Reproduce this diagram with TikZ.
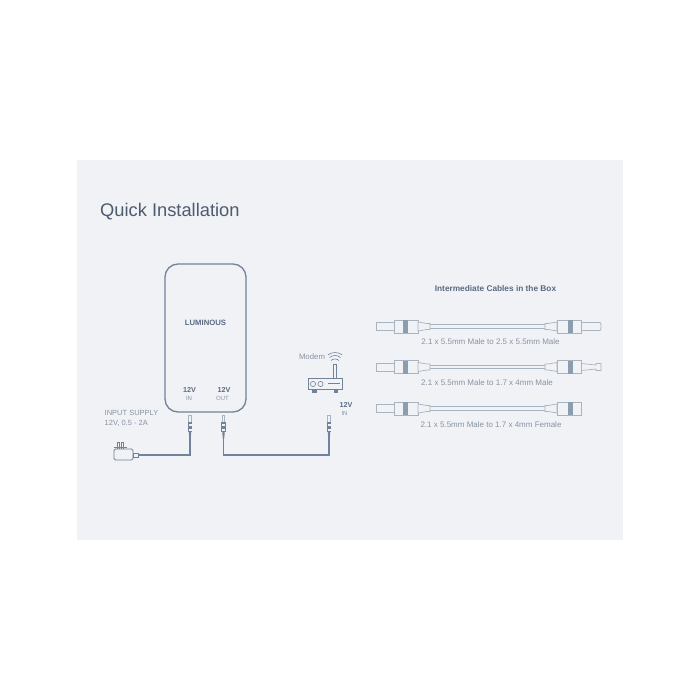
\documentclass[tikz,border=0pt]{standalone}
\usepackage{fontspec}
\setmainfont{Liberation Sans}
\definecolor{panel}{HTML}{F1F2F6}
\definecolor{ink}{HTML}{71829A}
\definecolor{dark}{HTML}{5A6B82}
\definecolor{soft}{HTML}{A9B4C2}
\definecolor{band}{HTML}{8B9DB0}
\definecolor{txt}{HTML}{8793A3}
\tikzset{
  lbl/.style={inner sep=0pt,text=txt,font=\fontsize{8}{9}\selectfont},
  boldlbl/.style={inner sep=0pt,text=dark,font=\fontsize{7.2}{8}\selectfont\bfseries},
  tiny/.style={inner sep=0pt,text=txt,font=\fontsize{6}{7}\selectfont},
  wire/.style={draw=ink,line width=1.1pt},
  thin part/.style={draw=soft,line width=.7pt,fill=panel},
  iconline/.style={draw=ink,line width=.8pt}
}
% vertical plug at (#1), top of tip; name #2 = lower end
\newcommand{\vplug}[2]{%
  \begin{scope}[shift={(#1)}]
    \draw[draw=soft,line width=.7pt,fill=panel] (-1.3,0) rectangle (1.3,7);
    \fill[ink] (-2.4,7) rectangle (2.4,17);
    \fill[panel] (-1.5,8.5) rectangle (1.5,11);
    \fill[panel] (-1.5,14) rectangle (1.5,15.5);
    \fill[ink] (-1.2,17) -- (1.2,17) -- (.8,23) -- (-.8,23) -- cycle;
    \coordinate (#2) at (0,23);
  \end{scope}}
% horizontal connector half; #1 origin at body end, #2 = direction (1 = wire to right)
\newcommand{\cablebody}[3]{%
  \begin{scope}[shift={(#1)},xscale=#2]
    \draw[thin part] (0,-6.5) rectangle (24,6.5);
    \fill[band] (8.5,-6.5) rectangle (13.5,6.5);
    \draw[thin part] (24,-4.5) -- (33,-3) -- (36,-3) -- (36,3) -- (33,3) -- (24,4.5) -- cycle;
    \coordinate (#3) at (36,0);
  \end{scope}}
\begin{document}
\begin{tikzpicture}[x=1pt,y=-1pt]
\useasboundingbox (0,0) rectangle (700,700);
\fill[white] (0,0) rectangle (700,700);
\fill[panel] (77,160) rectangle (623,540);

\node[anchor=west,inner sep=0pt,text=dark!85!black,font=\fontsize{18.3}{20}\selectfont] (title) at (100,211.5) {Quick Installation};

% main unit
\node[draw=ink,line width=1.3pt,rounded corners=13pt,minimum width=81pt,minimum height=148pt,inner sep=0pt] (unit) at (205.5,338) {};
\node[text=dark,inner sep=0pt,font=\fontsize{7.7}{8}\selectfont\bfseries] (brand) at (205.5,322.5) {LUMINOUS};
\node[boldlbl] (inv) at (189.5,389.5) {12V};
\node[tiny] (inl) at (189,398.5) {IN};
\node[boldlbl] (outv) at (224,389.5) {12V};
\node[tiny] (outl) at (222.5,398.5) {OUT};

% plugs
\vplug{190,415}{pa}
\vplug{223.5,415}{pb}
\vplug{329,415}{pc}

% input supply
\node[lbl,anchor=west,font=\fontsize{7.5}{9}\selectfont] (sup1) at (104.5,413) {INPUT SUPPLY};
\node[lbl,anchor=west,font=\fontsize{7.5}{9}\selectfont] (sup2) at (104.5,423) {12V, 0.5 - 2A};
\node[draw=ink,line width=.9pt,rounded corners=1.5pt,minimum width=19pt,minimum height=11pt,inner sep=0pt,fill=panel] (adapter) at (123.5,454.5) {};
\draw[iconline,line width=.6pt] (117,449) -- (117,442.5) -- (119,442.5) -- (119,449);
\draw[iconline,line width=.6pt] (121.5,449) -- (121.5,442.5) -- (123.5,442.5) -- (123.5,449);
\draw[iconline,line width=.6pt] (114,447.5) -- (127,447.5);
\node[draw=ink,line width=.7pt,minimum width=5pt,minimum height=4pt,inner sep=0pt] (adtip) at (135.5,455) {};
\draw[wire] (adtip.east) -- (190,455) -- (pa);
\draw[wire] (pb) -- (223.5,455) -- (329,455) -- (pc);

% modem
\node[lbl,font=\fontsize{7.8}{9}\selectfont] (modem) at (312,356.5) {Modem};
\node[draw=ink,line width=.9pt,minimum width=34pt,minimum height=11.5pt,inner sep=0pt,fill=panel] (router) at (325,384) {};
\draw[iconline,line width=.6pt] (333.5,378) -- (333.5,364) -- (336.5,364) -- (336.5,378);
\draw[iconline,line width=.6pt] (331,360.5) .. controls (333,358.5) and (337,358.5) .. (339,360.5);
\draw[iconline,line width=.6pt] (329.5,357.5) .. controls (332.5,354.8) and (337.5,354.8) .. (340.5,357.5);
\draw[iconline,line width=.6pt] (328,354.8) .. controls (332,351.8) and (338,351.8) .. (342,354.8);
\draw[iconline,line width=.6pt] (313,384) circle (2.6);
\draw[iconline,line width=.6pt] (320.5,384) circle (2.6);
\draw[iconline,line width=.6pt] (328,383.5) -- (340,383.5);
\fill[ink] (312,390) rectangle (316.5,392.5);
\fill[ink] (333.5,390) rectangle (338,392.5);
\node[boldlbl] (mv) at (346,405) {12V};
\node[tiny] (ml) at (344.5,413.5) {IN};

% cables
\node[inner sep=0pt,text=dark,font=\fontsize{8.3}{9}\selectfont\bfseries] (head) at (495.5,289) {Intermediate Cables in the Box};

\draw[thin part] (376,322.5) -- (394,322.5) -- (394,330.5) -- (376,330.5) -- cycle;
\draw[thin part] (581,322.5) -- (600,322.5) -- (601,324.5) -- (601,328.5) -- (600,330.5) -- (581,330.5) -- cycle;
\cablebody{394,326.5}{1}{a1}
\cablebody{581,326.5}{-1}{a2}
\draw[soft,line width=.7pt] ([yshift=-1.7pt]a1) -- ([yshift=-1.7pt]a2);
\draw[soft,line width=.7pt] ([yshift=1.7pt]a1) -- ([yshift=1.7pt]a2);
\node[lbl] (cap1) at (490.5,341.5) {2.1 x 5.5mm Male to 2.5 x 5.5mm Male};

\draw[thin part] (376,363) -- (394,363) -- (394,371) -- (376,371) -- cycle;
\draw[thin part] (581,363.5) -- (596,365) -- (596,363.5) -- (601,363.5) -- (601,370.5) -- (596,370.5) -- (596,369) -- (581,370.5) -- cycle;
\cablebody{394,367}{1}{b1}
\cablebody{581,367}{-1}{b2}
\draw[soft,line width=.7pt] ([yshift=-1.7pt]b1) -- ([yshift=-1.7pt]b2);
\draw[soft,line width=.7pt] ([yshift=1.7pt]b1) -- ([yshift=1.7pt]b2);
\node[lbl] (cap2) at (487,383) {2.1 x 5.5mm Male to 1.7 x 4mm Male};

\draw[thin part] (376,404.5) -- (394,404.5) -- (394,412.5) -- (376,412.5) -- cycle;
\cablebody{394,408.5}{1}{c1}
\cablebody{581,408.5}{-1}{c2}
\draw[soft,line width=.7pt] ([yshift=-1.7pt]c1) -- ([yshift=-1.7pt]c2);
\draw[soft,line width=.7pt] ([yshift=1.7pt]c1) -- ([yshift=1.7pt]c2);
\node[lbl] (cap3) at (491,425) {2.1 x 5.5mm Male to 1.7 x 4mm Female};
\end{tikzpicture}
\end{document}
